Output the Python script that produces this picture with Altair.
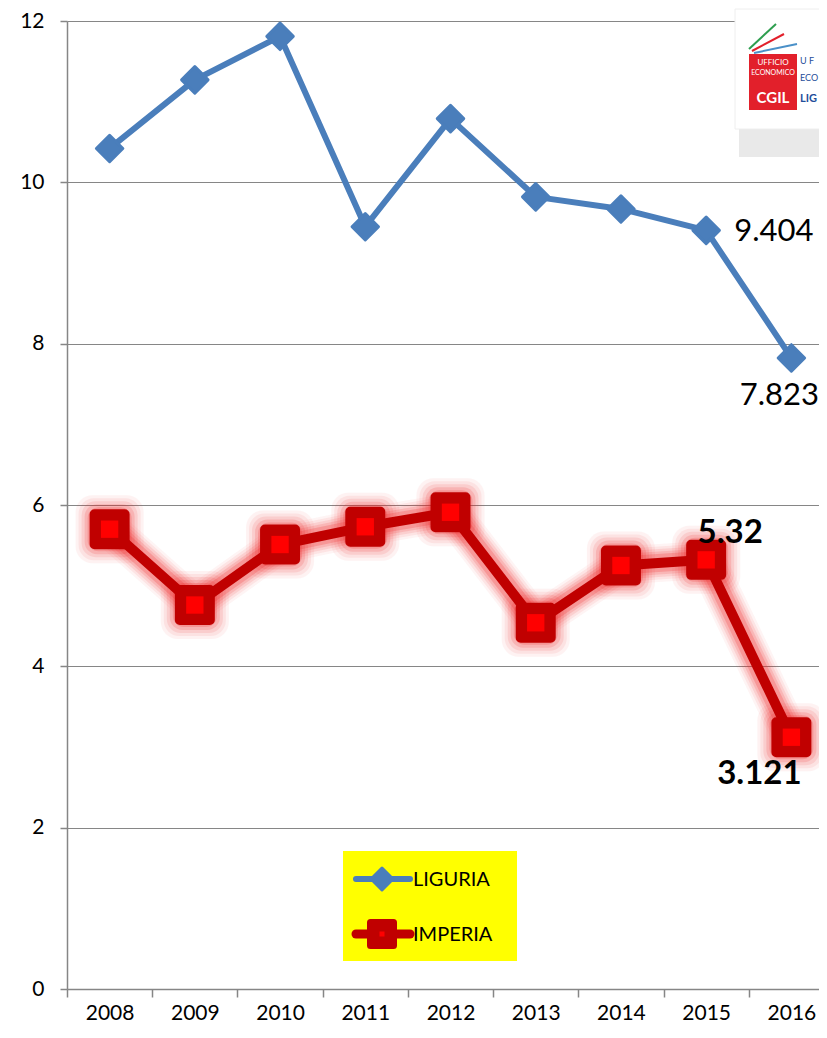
import altair as alt
import pandas as pd

years = ["2008", "2009", "2010", "2011", "2012", "2013", "2014", "2015", "2016"]
liguria = [10.42, 11.27, 11.81, 9.45, 10.79, 9.82, 9.67, 9.404, 7.823]
imperia = [5.70, 4.76, 5.51, 5.73, 5.91, 4.54, 5.25, 5.32, 3.121]
y_ticks = [0, 2, 4, 6, 8, 10, 12]

lig = pd.DataFrame({"year": years, "value": liguria})
imp = pd.DataFrame({"year": years, "value": imperia})
one = pd.DataFrame({"a": [0]})

W, H = 752, 968
FONT = "Lato"
BLUE = "#4A7EBB"
DRED = "#C00000"
RED = "#FF0000"
GLOW = "#F02020"
GRAY = "#868686"

xenc = alt.X("year:O", scale=alt.Scale(type="band", range=[0, 767], paddingInner=0, paddingOuter=0),
             axis=alt.Axis(title=None, labelAngle=0, tickBand="extent", tickSize=8,
                           labelPadding=5, labelFontSize=21, labelFont=FONT,
                           labelColor="#000000", domainColor=GRAY, tickColor=GRAY,
                           domainWidth=1.5, tickWidth=1.5))
yenc = alt.Y("value:Q", scale=alt.Scale(domain=[0, 12], nice=False, zero=True),
             axis=alt.Axis(title=None, values=y_ticks, grid=True, gridColor=GRAY,
                           gridWidth=1.2, tickSize=7, labelPadding=16, labelFontSize=21,
                           labelFont=FONT, labelColor="#000000", domainColor=GRAY,
                           tickColor=GRAY, domainWidth=1.5, tickWidth=1.5))

base_l = alt.Chart(lig).encode(x=xenc, y=yenc)
base_i = alt.Chart(imp).encode(x=xenc, y=yenc)

# IMPERIA soft glow (several translucent layers)
glow_layers = []
for w, op in [(38, 0.05), (33, 0.07), (28, 0.1), (23, 0.14), (18, 0.2)]:
    glow_layers.append(base_i.mark_line(color=GLOW, strokeWidth=w, opacity=op,
                                        strokeJoin="round", strokeCap="round"))
for k, op in [(34, 0.05), (31, 0.07), (28, 0.1), (25, 0.14), (22, 0.2)]:
    glow_layers.append(base_i.mark_point(shape="square", filled=False, color=GLOW, size=k * k,
                                         strokeWidth=k, strokeJoin="round", opacity=op))

imp_line = base_i.mark_line(color=DRED, strokeWidth=10, strokeJoin="round", strokeCap="round")
imp_sq = base_i.mark_point(shape="square", filled=True, fill=DRED, stroke=DRED, strokeWidth=10,
                           strokeJoin="round", size=900, opacity=1)
imp_in = base_i.mark_square(color=RED, size=300, opacity=1)

lig_line = base_l.mark_line(color=BLUE, strokeWidth=6, strokeJoin="round", strokeCap="round")
lig_pt = base_l.mark_point(shape="diamond", filled=True, fill=BLUE, stroke=BLUE,
                           strokeWidth=3, strokeJoin="round", size=700, opacity=1)

# value labels
lab_l1 = alt.Chart(lig.iloc[[7]]).mark_text(align="left", baseline="middle", dx=28, dy=2,
                                             fontSize=31, font=FONT, color="#000000"
                                             ).encode(x=xenc, y=yenc, text=alt.Text("value:Q", format=".3f"))
lab_l2 = alt.Chart(lig.iloc[[8]]).mark_text(align="center", baseline="middle", dx=-12, dy=38,
                                             fontSize=31, font=FONT, color="#000000"
                                             ).encode(x=xenc, y=yenc, text=alt.Text("value:Q", format=".3f"))
lab_i1 = alt.Chart(imp.iloc[[7]]).mark_text(align="center", baseline="middle", dx=24, dy=-27,
                                             fontSize=33, font=FONT, fontWeight="bold", color="#000000"
                                             ).encode(x=xenc, y=yenc, text=alt.Text("value:Q", format=".2f"))
lab_i2 = alt.Chart(imp.iloc[[8]]).mark_text(align="center", baseline="middle", dx=-32, dy=37,
                                             fontSize=33, font=FONT, fontWeight="bold", color="#000000"
                                             ).encode(x=xenc, y=yenc, text=alt.Text("value:Q", format=".3f"))

# legend box
d = alt.Chart(one)
leg_bg = d.mark_rect(color="#FFFF00").encode(x=alt.value(276), x2=alt.value(450), y=alt.value(830), y2=alt.value(940))
leg_l_line = d.mark_rule(color=BLUE, strokeWidth=6, strokeCap="round").encode(
    x=alt.value(289), x2=alt.value(343), y=alt.value(858), y2=alt.value(858))
leg_l_pt = d.mark_point(shape="diamond", filled=True, fill=BLUE, stroke=BLUE, strokeWidth=3,
                        strokeJoin="round", size=480, opacity=1).encode(x=alt.value(315), y=alt.value(858))
leg_l_txt = d.mark_text(align="left", baseline="middle", fontSize=20, font=FONT, color="#000000",
                        text="LIGURIA").encode(x=alt.value(346), y=alt.value(859))
leg_i_line = d.mark_rule(color=DRED, strokeWidth=9, strokeCap="round").encode(
    x=alt.value(289), x2=alt.value(343), y=alt.value(913), y2=alt.value(913))
leg_i_sq = d.mark_point(shape="square", filled=True, fill=DRED, stroke=DRED, strokeWidth=7,
                        strokeJoin="round", size=529, opacity=1).encode(x=alt.value(315), y=alt.value(913))
leg_i_in = d.mark_square(color=RED, size=25, opacity=1).encode(x=alt.value(315), y=alt.value(913))
leg_i_txt = d.mark_text(align="left", baseline="middle", fontSize=20, font=FONT, color="#000000",
                        text="IMPERIA").encode(x=alt.value(346), y=alt.value(914))

# logo (decorative)
logo_shadow = d.mark_rect(color="#E4E4E4", opacity=0.8).encode(
    x=alt.value(672), x2=alt.value(760), y=alt.value(108), y2=alt.value(136))
logo_bg = d.mark_rect(color="#FFFFFF", stroke="#EEEEEE", strokeWidth=1).encode(
    x=alt.value(668), x2=alt.value(762), y=alt.value(-12), y2=alt.value(108))
logo_red = d.mark_rect(color="#E2202B").encode(
    x=alt.value(682), x2=alt.value(730), y=alt.value(33), y2=alt.value(89))
logo_g = d.mark_rule(color="#2E9E4F", strokeWidth=2).encode(
    x=alt.value(682), x2=alt.value(709), y=alt.value(28), y2=alt.value(3))
logo_r = d.mark_rule(color="#E2202B", strokeWidth=2).encode(
    x=alt.value(685), x2=alt.value(717), y=alt.value(30), y2=alt.value(13))
logo_b = d.mark_rule(color="#4A90C8", strokeWidth=2).encode(
    x=alt.value(687), x2=alt.value(730), y=alt.value(32), y2=alt.value(23))
logo_t1 = d.mark_text(align="center", baseline="middle", fontSize=8, font=FONT, color="#FFFFFF",
                      text="UFFICIO").encode(x=alt.value(706), y=alt.value(42))
logo_t2 = d.mark_text(align="center", baseline="middle", fontSize=7, font=FONT, color="#FFFFFF",
                      text="ECONOMICO").encode(x=alt.value(706), y=alt.value(52))
logo_t3 = d.mark_text(align="center", baseline="middle", fontSize=15, font=FONT, fontWeight="bold",
                      color="#FFFFFF", text="CGIL").encode(x=alt.value(706), y=alt.value(77))
logo_t4 = d.mark_text(align="left", baseline="middle", fontSize=9, font=FONT, color="#1F4E9A",
                      text="U F").encode(x=alt.value(733), y=alt.value(40))
logo_t5 = d.mark_text(align="left", baseline="middle", fontSize=9, font=FONT, color="#1F4E9A",
                      text="ECO").encode(x=alt.value(733), y=alt.value(57))
logo_t6 = d.mark_text(align="left", baseline="middle", fontSize=11, font=FONT, fontWeight="bold",
                      color="#1F4E9A", text="LIG").encode(x=alt.value(733), y=alt.value(78))

chart = alt.layer(
    *glow_layers, imp_line, imp_sq, imp_in,
    lig_line, lig_pt,
    lab_l1, lab_l2, lab_i1, lab_i2,
    leg_bg, leg_l_line, leg_l_pt, leg_l_txt, leg_i_line, leg_i_sq, leg_i_in, leg_i_txt,
    logo_shadow, logo_bg, logo_red, logo_g, logo_r, logo_b, logo_t1, logo_t2, logo_t3,
    logo_t4, logo_t5, logo_t6,
).properties(
    width=W, height=H,
    autosize=alt.AutoSizeParams(type="none"),
    padding={"left": 59, "top": 13, "right": 0, "bottom": 36},
    background="#FFFFFF",
).configure_view(strokeWidth=0)

chart.save("out.html", embed_options={"renderer": "svg", "actions": False})
